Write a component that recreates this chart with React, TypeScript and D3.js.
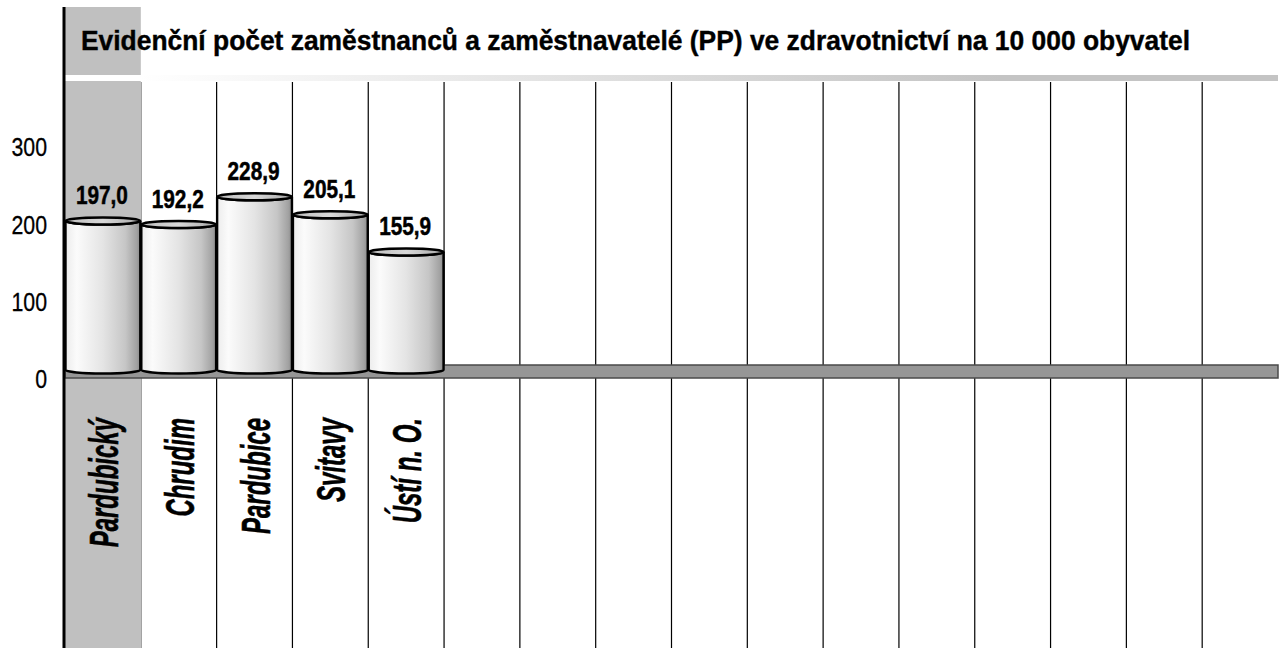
import * as d3 from "d3";

const title = "Evidenční počet zaměstnanců a zaměstnavatelé (PP) ve zdravotnictví na 10 000 obyvatel";
const categories = ["Pardubický", "Chrudim", "Pardubice", "Svitavy", "Ústí n. O.", "", "", "", "", "", "", "", "", "", "", ""];
const values = [197.0, 192.2, 228.9, 205.1, 155.9];
const yTicks = [0, 100, 200, 300];
const highlighted = "Pardubický";

export default function App() {
  const width = 1280;
  const height = 648;

  const x = d3
    .scaleBand<number>()
    .domain(d3.range(categories.length))
    .range([65, 1278])
    .padding(0);
  // bars sit on the back plane, tick labels on the front plane of the 3D box
  const y = d3.scaleLinear().domain([0, 300]).range([370, 143]);
  const yFront = d3.scaleLinear().domain([0, 300]).range([379, 147]);
  const fmt = (v: number) => d3.format(".1f")(v).replace(".", ",");

  const bw = x.bandwidth();
  const ry = 3.5;
  const hi = categories.indexOf(highlighted);

  const cylinder = (x0: number, x1: number, yt: number, yb: number) => {
    const rx = (x1 - x0) / 2;
    return `M${x0},${yt} L${x0},${yb} A${rx},${ry} 0 0 0 ${x1},${yb} L${x1},${yt} A${rx},${ry} 0 0 1 ${x0},${yt} Z`;
  };

  return (
    <>
      <style>{"body{margin:0}"}</style>
      <svg width={width} height={height} style={{ display: "block", fontFamily: "'Liberation Sans', Arial, sans-serif" }}>
        <defs>
          <linearGradient id="body" x1="0" x2="1" y1="0" y2="0">
            <stop offset="0" stopColor="#ececec" />
            <stop offset="0.15" stopColor="#fbfbfb" />
            <stop offset="0.5" stopColor="#e4e4e4" />
            <stop offset="0.8" stopColor="#c6c6c6" />
            <stop offset="0.95" stopColor="#a2a2a2" />
            <stop offset="1" stopColor="#8a8a8a" />
          </linearGradient>
          <linearGradient id="topcap" x1="0" x2="1" y1="0" y2="0">
            <stop offset="0" stopColor="#bdbdbd" />
            <stop offset="0.5" stopColor="#d8d8d8" />
            <stop offset="1" stopColor="#a8a8a8" />
          </linearGradient>
          <linearGradient id="strip" gradientUnits="userSpaceOnUse" x1="140" x2="1000" y1="0" y2="0">
            <stop offset="0" stopColor="#ffffff" />
            <stop offset="1" stopColor="#c4c4c4" />
          </linearGradient>
        </defs>

        {/* highlighted category column */}
        <rect x={x(hi)!} y={7} width={bw} height={height - 7} fill="#c0c0c0" />

        {/* top edge strip */}
        <rect x={65} y={75} width={1278 - 65} height={6} fill="url(#strip)" />

        {/* vertical grid lines */}
        {categories.map((_, i) =>
          i === 0 ? null : (
            <line key={i} x1={x(i)!} x2={x(i)!} y1={82} y2={height} stroke="#000" strokeWidth={1.2} />
          )
        )}
        <rect x={x(hi)! + 0.5} y={82} width={bw} height={height - 82} fill="#c0c0c0" />

        {/* floor */}
        <rect x={65} y={365} width={1278 - 65} height={13} fill="#969696" stroke="#4a4a4a" strokeWidth={1.5} />

        {/* cylinders */}
        {values.map((v, i) => {
          const x0 = x(i)! + 0.5;
          const x1 = x(i)! + bw - 0.5;
          const yt = y(v);
          const yb = y(0);
          return (
            <g key={i}>
              <path d={cylinder(x0, x1, yt, yb)} fill="url(#body)" stroke="#000" strokeWidth={2.4} />
              <ellipse cx={(x0 + x1) / 2} cy={yt} rx={(x1 - x0) / 2} ry={ry} fill="url(#topcap)" stroke="#000" strokeWidth={2.4} />
            </g>
          );
        })}

        {/* value labels */}
        {values.map((v, i) => (
          <text
            key={i}
            transform={`translate(${x(i)! + bw / 2 - 1},${y(v) - 17}) scale(0.8,1)`}
            textAnchor="middle"
            fontSize={26}
            fontWeight="bold"
            fill="#000"
            stroke="#000"
            strokeWidth={0.5}
          >
            {fmt(v)}
          </text>
        ))}

        {/* y tick labels */}
        {yTicks.map((t) => (
          <text
            key={t}
            transform={`translate(47,${yFront(t)}) scale(0.82,1)`}
            textAnchor="end"
            dy="0.36em"
            fontSize={26}
            fill="#000"
            stroke="#000"
            strokeWidth={0.3}
          >
            {t}
          </text>
        ))}

        {/* category labels */}
        {categories.map((c, i) =>
          c ? (
            <text
              key={i}
              transform={`translate(${x(i)! + bw / 2 + 15},418) rotate(-90) scale(0.6,1)`}
              textAnchor="end"
              fontSize={40}
              fontWeight="bold"
              fontStyle="italic"
              fill="#000"
              stroke="#000"
              strokeWidth={0.6}
            >
              {c}
            </text>
          ) : null
        )}

        {/* value axis line */}
        <line x1={64} x2={64} y1={7} y2={height} stroke="#000" strokeWidth={3} />

        {/* title */}
        <text
          x={81}
          y={50}
          fontSize={27}
          fontWeight="bold"
          fill="#000"
          stroke="#000"
          strokeWidth={0.4}
          textLength={1109}
          lengthAdjust="spacingAndGlyphs"
        >
          {title}
        </text>
      </svg>
    </>
  );
}
